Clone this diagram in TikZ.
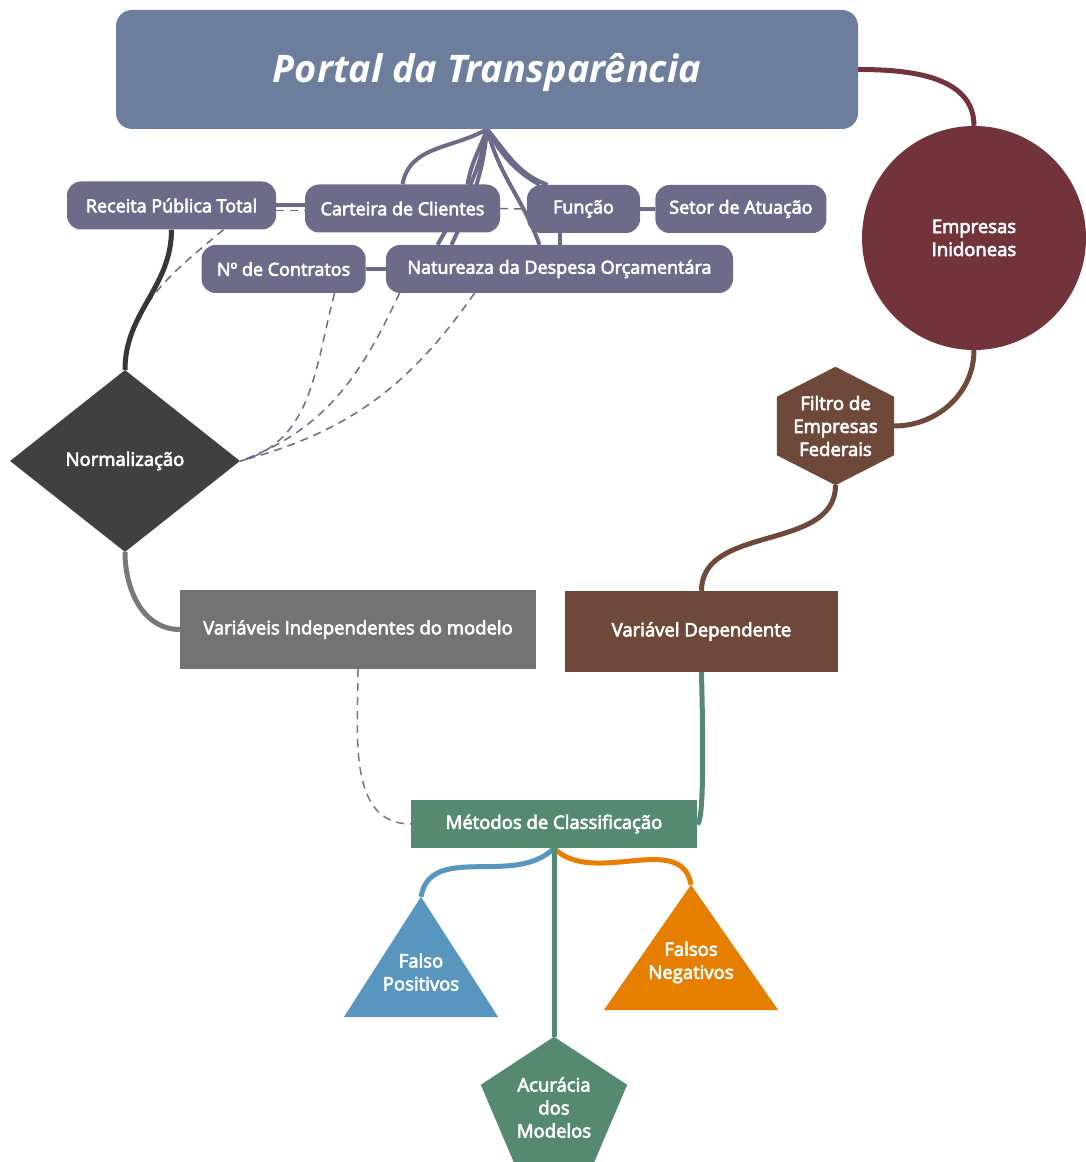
\documentclass[tikz,border=0pt]{standalone}
\usepackage{fontspec}
\setmainfont{Open Sans}
\newfontfamily\lblfont{Open Sans}[FakeBold=3.5]
\usetikzlibrary{positioning,shapes.geometric,backgrounds}

\definecolor{titlec}{RGB}{108,126,155}
\definecolor{pillc}{RGB}{110,106,138}
\definecolor{normc}{RGB}{64,64,64}
\definecolor{normwire}{RGB}{55,55,55}
\definecolor{indc}{RGB}{115,115,115}
\definecolor{indwire}{RGB}{120,120,120}
\definecolor{inidc}{RGB}{114,52,58}
\definecolor{depc}{RGB}{110,73,57}
\definecolor{metc}{RGB}{86,138,112}
\definecolor{fposc}{RGB}{88,150,192}
\definecolor{fnegc}{RGB}{230,126,0}

\tikzset{
	pill/.style={fill=pillc, rounded corners=14pt, minimum height=48pt, inner sep=0pt, text=white, font=\lblfont\fontsize{18}{21}\selectfont},
	block/.style={inner sep=0pt, text=white, align=center, font=\lblfont\fontsize{18.5}{23}\selectfont},
	shapetext/.style={text=white, align=center, inner sep=0pt, font=\lblfont\fontsize{18.5}{23}\selectfont},
	fan/.style={draw=pillc, line width=4pt},
	dfan/.style={draw=pillc, line width=1.5pt, dash pattern=on 8pt off 6pt},
	wire/.style={line width=5pt},
}

\begin{document}
\begin{tikzpicture}[x=1pt,y=1pt]
		\useasboundingbox (0,0) rectangle (1086,1162);

		% Define nodes
		\node[fill=titlec, rounded corners=16pt, minimum width=742pt, minimum height=119pt, text=white, text height=36pt, font=\fontsize{38}{44}\selectfont\bfseries\itshape] (pt) at (487,1092.5) {Portal da Transparência};

		\node[pill, minimum width=209pt] (rp) at (171.5,956.5) {Receita Pública Total};
		\node[pill, minimum width=195pt] (cc) at (402.5,953.5) {Carteira de Clientes};
		\node[pill, minimum width=113pt] (fn) at (583.5,953) {Função};
		\node[pill, minimum width=171pt, right=15pt of fn] (sa) {Setor de Atuação};
		\node[pill, minimum width=347pt] (nd) at (559.5,893) {Natureaza da Despesa Orçamentára};
		\node[pill, minimum width=164pt, left=20pt of nd] (nc) {Nº de Contratos};

		\node[block, diamond, fill=normc, minimum width=230pt, minimum height=182pt] (nm) at (125,701) {Normalização};
		\node[block, fill=indc, minimum width=356pt, minimum height=79pt] (vi) at (358,532.5) {Variáveis Independentes do modelo};
		\node[block, fill=depc, minimum width=273pt, minimum height=81pt] (vd) at (701.5,530.5) {Variável Dependente};

		\node[block, circle, fill=inidc, minimum size=224pt] (ei) at (974,924) {Empresas\\Inidoneas};
		\node[block, minimum width=117pt, minimum height=118pt] (hx) at (835.5,736) {Filtro de\\Empresas\\Federais};

		\node[block, fill=metc, minimum width=286pt, minimum height=48pt] (mc) at (554,338) {Métodos de Classificação};
		\node[inner sep=0pt, minimum width=154pt, minimum height=120pt, label={[shapetext, yshift=-15pt]center:Falso\\Positivos}] (fpos) at (421,205) {};
		\node[inner sep=0pt, minimum width=174pt, minimum height=125pt, label={[shapetext, yshift=-15pt]center:Falsos\\Negativos}] (fneg) at (691,214.5) {};
		\node[inner sep=0pt, minimum width=146pt, minimum height=125pt, label={[shapetext, yshift=-8pt]center:Acurácia\\dos\\Modelos}] (ac) at (554,62.5) {};

		\begin{scope}[on background layer]
		\fill[white] (0,0) rectangle (1086,1162);

		% Connect the nodes
		\draw[fan] (pt.south) to[out=-150,in=80] (cc.north);
		\draw[fan] (pt.south) to[out=-110,in=80] ([xshift=65pt]cc.north);
		\draw[fan] (pt.south) to[out=-100,in=60] ([xshift=-122pt]nd.north);
		\draw[fan] (pt.south) to[out=-95,in=65] ([xshift=-108pt]nd.north);
		\draw[fan] (pt.south) to[out=-60,in=150] ([xshift=-44pt]fn.north);
		\draw[fan] (pt.south) to[out=-50,in=160] ([xshift=-36pt]fn.north);
		\draw[fan] (pt.south) to[out=-75,in=110] ([xshift=-20pt]nd.north);
		\draw[fan] (nd.north |- fn.south) -- (nd.north);

		\draw[fan] (rp.east) -- (cc.west |- rp.east);
		\draw[dfan] ([yshift=-5pt]rp.east) -- ([yshift=-2pt]cc.west);
		\draw[dfan] (cc.east) -- (fn.west);
		\draw[fan] (fn.east) -- (sa.west);
		\draw[fan] (nc.east) -- (nd.west);

		\draw[dfan] ([xshift=52pt]rp.south) to[out=-140,in=85] (nm.north);
		\draw[dfan] ([xshift=51pt]nc.south) to[out=-105,in=15] (nm.east);
		\draw[dfan] ([xshift=-160pt]nd.south) to[out=-115,in=20] (nm.east);
		\draw[dfan] ([xshift=-85pt]nd.south) to[out=-125,in=15] (nm.east);

		\draw[wire, normwire] (rp.south) to[out=-90,in=90] (nm.north);
		\draw[wire, indwire] (nm.south) to[out=-90,in=180] (vi.west);
		\draw[indwire, line width=1.5pt, dash pattern=on 8pt off 6pt] (vi.south) to[out=-90,in=180] (mc.west);

		\draw[wire, inidc] (pt.east) to[out=0,in=90] (ei.north);
		\draw[wire, depc] (ei.south) to[out=-90,in=0] (hx.east);
		\draw[wire, depc] (hx.south) to[out=-90,in=90] (vd.north);
		\draw[wire, metc] (vd.south) to[out=-90,in=0, looseness=0.15] (mc.east);

		\draw[wire, fposc] (mc.south) to[out=-135,in=80] (fpos.north);
		\draw[wire, fnegc] (mc.south) to[out=-45,in=100] (fneg.north);
		\draw[wire, metc] (mc.south) -- (ac.north);

		% Shapes
		\fill[depc] (hx.north) -- ([yshift=-30pt]hx.north east) -- ([yshift=30pt]hx.south east) -- (hx.south) -- ([yshift=30pt]hx.south west) -- ([yshift=-30pt]hx.north west) -- cycle;
		\fill[fposc] (fpos.north) -- (fpos.south east) -- (fpos.south west) -- cycle;
		\fill[fnegc] (fneg.north) -- (fneg.south east) -- (fneg.south west) -- cycle;
		\fill[metc] (ac.north) -- ([yshift=-48pt]ac.north east) -- ([xshift=-33pt]ac.south east) -- ([xshift=33pt]ac.south west) -- ([yshift=-48pt]ac.north west) -- cycle;
		\end{scope}

	\end{tikzpicture}
\end{document}
